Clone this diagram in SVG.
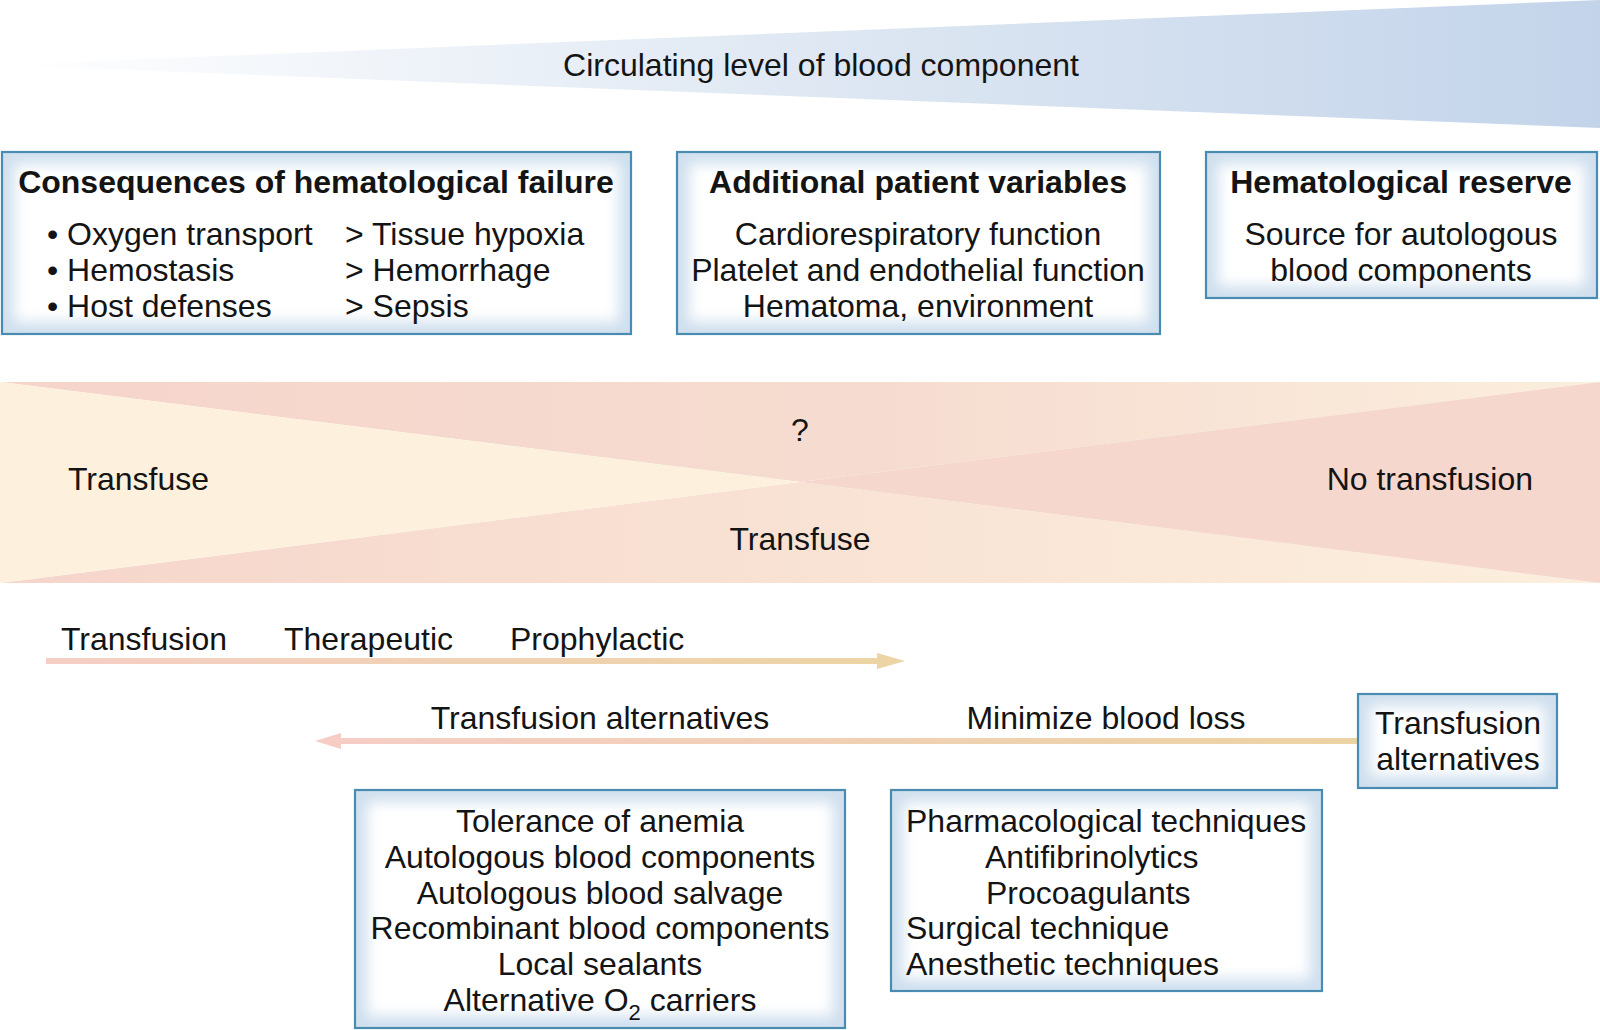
<svg xmlns="http://www.w3.org/2000/svg" width="1600" height="1030" viewBox="0 0 1600 1030">
<defs>
<linearGradient id="gBlue" x1="0" y1="0" x2="1600" y2="0" gradientUnits="userSpaceOnUse">
<stop offset="0" stop-color="#FFFFFF"/>
<stop offset="0.5" stop-color="#DFE8F3"/>
<stop offset="1" stop-color="#C3D4EA"/>
</linearGradient>
<linearGradient id="gTop" x1="0" y1="0" x2="1600" y2="0" gradientUnits="userSpaceOnUse">
<stop offset="0" stop-color="#F6D5CB"/>
<stop offset="0.55" stop-color="#F6DCD0"/>
<stop offset="1" stop-color="#FBEEDD"/>
</linearGradient>
<linearGradient id="gBot" x1="0" y1="0" x2="1600" y2="0" gradientUnits="userSpaceOnUse">
<stop offset="0" stop-color="#F6D5CB"/>
<stop offset="0.6" stop-color="#F9E5D6"/>
<stop offset="1" stop-color="#FCEFDE"/>
</linearGradient>
<linearGradient id="gArr1" x1="46" y1="0" x2="880" y2="0" gradientUnits="userSpaceOnUse">
<stop offset="0" stop-color="#F5CEC5"/>
<stop offset="1" stop-color="#ECD4A4"/>
</linearGradient>
<linearGradient id="gArr2" x1="1358" y1="0" x2="340" y2="0" gradientUnits="userSpaceOnUse">
<stop offset="0" stop-color="#ECD3A3"/>
<stop offset="1" stop-color="#F5CDC5"/>
</linearGradient>
<filter id="soft" x="-20%" y="-20%" width="140%" height="140%">
<feGaussianBlur stdDeviation="7"/>
</filter>
<marker id="headR" markerUnits="userSpaceOnUse" markerWidth="30" markerHeight="18" refX="0" refY="9" orient="auto" viewBox="0 0 30 18">
<polygon points="0,1 28,9 0,17" fill="#ECD4A4"/>
</marker>
<marker id="headL" markerUnits="userSpaceOnUse" markerWidth="30" markerHeight="18" refX="0" refY="9" orient="auto" viewBox="0 0 30 18">
<polygon points="0,1 26,9 0,17" fill="#F5CDC5"/>
</marker>
</defs>
<style>
text { font-family: "Liberation Sans", Arial, Helvetica, sans-serif; font-size: 32px; fill: #141414; }
.b { font-weight: bold; }
.c { text-anchor: middle; }
.e { text-anchor: end; }
.bg { fill: #CFDFEE; }
.glow { fill: #FFFFFF; filter: url(#soft); }
.frame { fill: none; stroke: #4A8CB1; stroke-width: 2.2; }
</style>
<rect width="1600" height="1030" fill="#FFFFFF"/>

<g id="wedge">
<polygon points="0,65 1600,0 1600,128" fill="url(#gBlue)"/>
<text class="c" x="821" y="76">Circulating level of blood component</text>
</g>

<g id="consequences">
<rect class="bg" x="2" y="152" width="629" height="182"/>
<rect class="glow" x="14" y="164" width="605" height="158"/>
<rect class="frame" x="2" y="152" width="629" height="182"/>
<text class="b c" x="316" y="193">Consequences of hematological failure</text>
<text x="47" y="245">• Oxygen transport</text>
<text x="47" y="281">• Hemostasis</text>
<text x="47" y="317">• Host defenses</text>
<text x="345" y="245">&gt; Tissue hypoxia</text>
<text x="345" y="281">&gt; Hemorrhage</text>
<text x="345" y="317">&gt; Sepsis</text>
</g>

<g id="patient-variables">
<rect class="bg" x="677" y="152" width="483" height="182"/>
<rect class="glow" x="689" y="164" width="459" height="158"/>
<rect class="frame" x="677" y="152" width="483" height="182"/>
<text class="b c" x="918" y="193">Additional patient variables</text>
<text class="c" x="918" y="245">Cardiorespiratory function</text>
<text class="c" x="918" y="281">Platelet and endothelial function</text>
<text class="c" x="918" y="317">Hematoma, environment</text>
</g>

<g id="reserve">
<rect class="bg" x="1206" y="152" width="391" height="146"/>
<rect class="glow" x="1218" y="164" width="367" height="122"/>
<rect class="frame" x="1206" y="152" width="391" height="146"/>
<text class="b c" x="1401" y="193">Hematological reserve</text>
<text class="c" x="1401" y="245">Source for autologous</text>
<text class="c" x="1401" y="281">blood components</text>
</g>

<g id="decision-band">
<polygon points="0,382 1600,382 800,482" fill="url(#gTop)"/>
<polygon points="0,583 1600,583 800,482" fill="url(#gBot)"/>
<polygon points="0,382 0,583 800,482" fill="#FDF0DD"/>
<polygon points="1600,382 1600,583 800,482" fill="#F6D7CD"/>
<text x="68" y="490">Transfuse</text>
<text class="c" x="800" y="441">?</text>
<text class="e" x="1533" y="490">No transfusion</text>
<text class="c" x="800" y="550">Transfuse</text>
</g>

<g id="labels">
<text x="61" y="650">Transfusion</text>
<text x="284" y="650">Therapeutic</text>
<text x="510" y="650">Prophylactic</text>
<text class="c" x="600" y="729">Transfusion alternatives</text>
<text class="c" x="1106" y="729">Minimize blood loss</text>
</g>

<g id="connectors">
<line x1="46" y1="661" x2="877" y2="661" stroke="url(#gArr1)" stroke-width="6" marker-end="url(#headR)"/>
<line x1="1358" y1="741" x2="341" y2="741" stroke="url(#gArr2)" stroke-width="6" marker-end="url(#headL)"/>
</g>

<g id="alternatives-box">
<rect class="bg" x="1358" y="694" width="199" height="94"/>
<rect class="glow" x="1370" y="706" width="175" height="70"/>
<rect class="frame" x="1358" y="694" width="199" height="94"/>
<text class="c" x="1458" y="734">Transfusion</text>
<text class="c" x="1458" y="770">alternatives</text>
</g>

<g id="alternatives-list">
<rect class="bg" x="355" y="790" width="490" height="238"/>
<rect class="glow" x="367" y="802" width="466" height="214"/>
<rect class="frame" x="355" y="790" width="490" height="238"/>
<text class="c" x="600" y="832">Tolerance of anemia</text>
<text class="c" x="600" y="868">Autologous blood components</text>
<text class="c" x="600" y="904">Autologous blood salvage</text>
<text class="c" x="600" y="939">Recombinant blood components</text>
<text class="c" x="600" y="975">Local sealants</text>
<text class="c" x="600" y="1011">Alternative O<tspan font-size="22" dy="9">2</tspan><tspan dy="-9"> carriers</tspan></text>
</g>

<g id="blood-loss-list">
<rect class="bg" x="891" y="790" width="431" height="201"/>
<rect class="glow" x="903" y="802" width="407" height="177"/>
<rect class="frame" x="891" y="790" width="431" height="201"/>
<text x="906" y="832">Pharmacological techniques</text>
<text x="985" y="868">Antifibrinolytics</text>
<text x="986" y="904">Procoagulants</text>
<text x="906" y="939">Surgical technique</text>
<text x="906" y="975">Anesthetic techniques</text>
</g>
</svg>
